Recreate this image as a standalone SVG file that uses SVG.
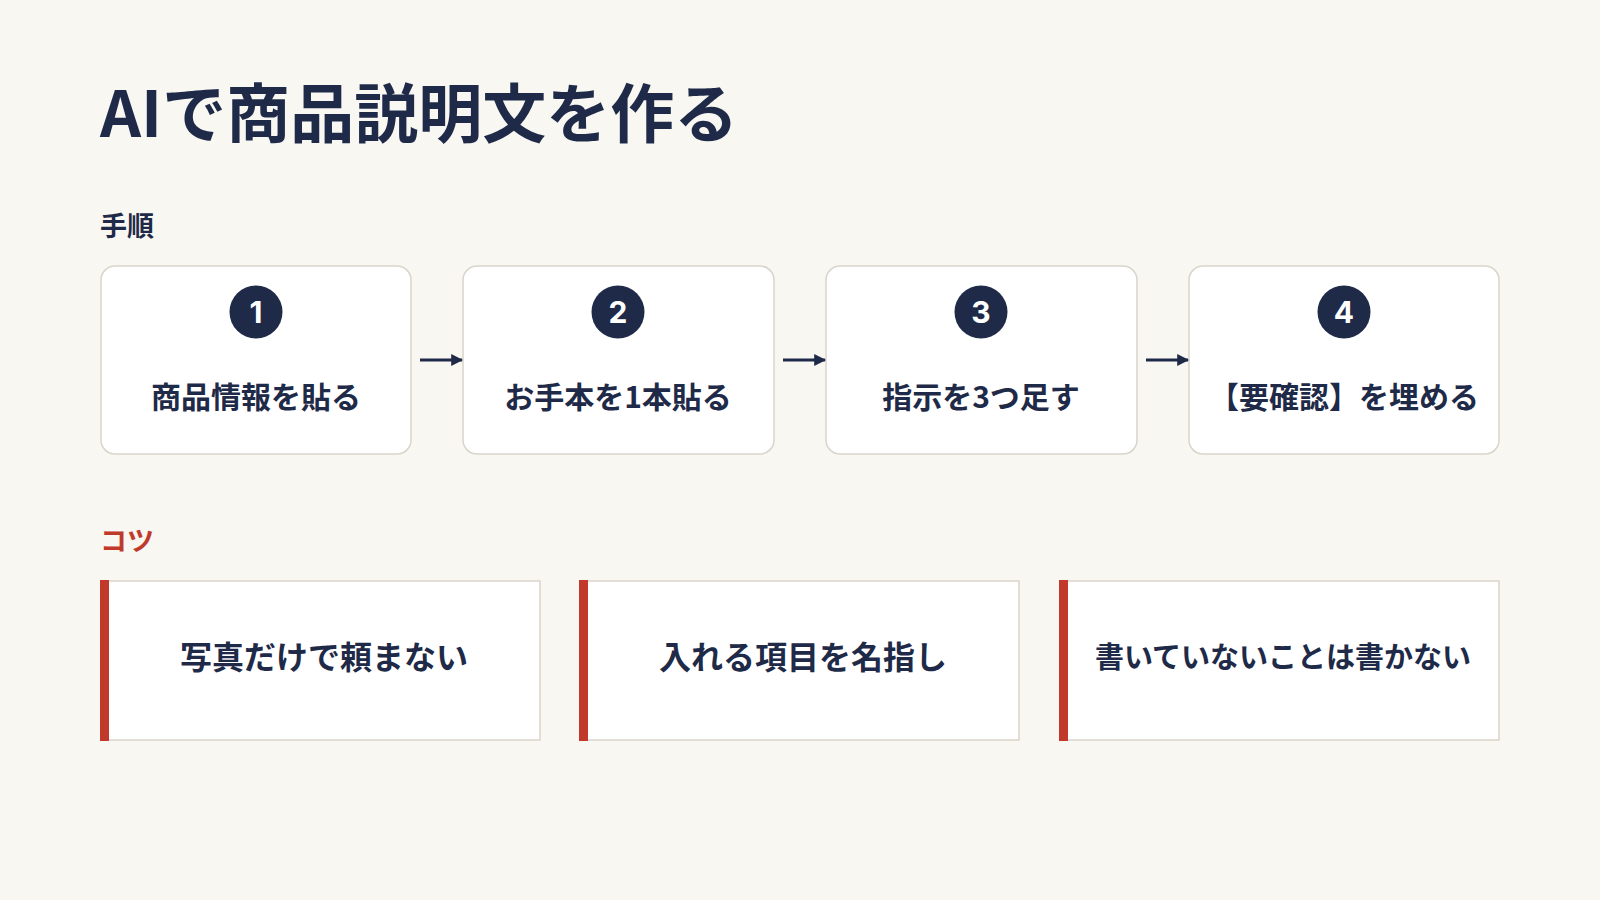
<svg xmlns="http://www.w3.org/2000/svg" width="1600" height="900" viewBox="0 0 1600 900">
<defs>
<style>
text{font-family:"Noto Sans CJK JP","Inter",sans-serif;fill:#1e2a47;font-weight:700}
.step{fill:#fff;stroke:#d9d5cc;stroke-width:1.5}
.num{fill:#1e2a47}
.numt{fill:#fff;font-family:"Inter","Noto Sans CJK JP",sans-serif;font-size:30px;text-anchor:middle}
.lab{font-size:30px;text-anchor:middle}
.tip{fill:#fff;stroke:#d9d5cc;stroke-width:1.5}
.bar{fill:#c0392b}
.tipt{font-size:32px;text-anchor:middle}
.conn{stroke:#1e2a47;stroke-width:3}
</style>
<marker id="ah" viewBox="0 0 10 10" refX="9" refY="5" markerWidth="4" markerHeight="4" orient="auto"><path d="M0,0L10,5L0,10z" fill="#1e2a47"/></marker>
</defs>
<rect width="1600" height="900" fill="#f8f7f2"/>
<text x="100" y="137" font-size="64">AIで商品説明文を作る</text>
<text x="100" y="236" font-size="27">手順</text>
<g id="step1"><rect class="step" x="101" y="266" width="310" height="188" rx="14"/><circle class="num" cx="256" cy="312" r="26.5"/><text class="numt" x="256" y="323">1</text><text class="lab" x="256" y="408">商品情報を貼る</text></g>
<g id="step2"><rect class="step" x="463" y="266" width="311" height="188" rx="14"/><circle class="num" cx="618" cy="312" r="26.5"/><text class="numt" x="618" y="323">2</text><text class="lab" x="618" y="408">お手本を1本貼る</text></g>
<g id="step3"><rect class="step" x="826" y="266" width="311" height="188" rx="14"/><circle class="num" cx="981" cy="312" r="26.5"/><text class="numt" x="981" y="323">3</text><text class="lab" x="981" y="408">指示を3つ足す</text></g>
<g id="step4"><rect class="step" x="1189" y="266" width="310" height="188" rx="14"/><circle class="num" cx="1344" cy="312" r="26.5"/><text class="numt" x="1344" y="323">4</text><text class="lab" x="1344" y="408">【要確認】を埋める</text></g>
<g id="connectors">
<line class="conn" x1="420" y1="360" x2="462" y2="360" marker-end="url(#ah)"/>
<line class="conn" x1="783" y1="360" x2="825" y2="360" marker-end="url(#ah)"/>
<line class="conn" x1="1146" y1="360" x2="1188" y2="360" marker-end="url(#ah)"/>
</g>
<text x="100" y="551" font-size="27" style="fill:#c0392b">コツ</text>
<g id="tip1"><rect class="tip" x="101" y="581" width="439" height="159"/><rect class="bar" x="100" y="580" width="9" height="161"/><text class="tipt" x="324" y="669">写真だけで頼まない</text></g>
<g id="tip2"><rect class="tip" x="580" y="581" width="439" height="159"/><rect class="bar" x="579" y="580" width="9" height="161"/><text class="tipt" x="803" y="669">入れる項目を名指し</text></g>
<g id="tip3"><rect class="tip" x="1060" y="581" width="439" height="159"/><rect class="bar" x="1059" y="580" width="9" height="161"/><text class="tipt" x="1283" y="668" font-size="29" style="font-size:29px">書いていないことは書かない</text></g>
</svg>
